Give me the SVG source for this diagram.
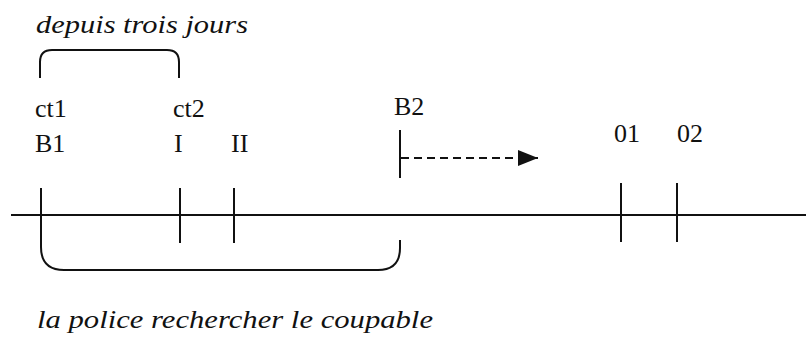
<svg xmlns="http://www.w3.org/2000/svg" width="806" height="347" viewBox="0 0 806 347">
<defs>
<style>
.t{font-family:"Liberation Serif","Times New Roman",serif;font-size:26px;fill:#111}
.i{font-style:italic}
.l{stroke:#111;stroke-width:2;fill:none}
</style>
<marker id="ah" markerWidth="20" markerHeight="16" refX="20" refY="8" orient="auto" markerUnits="userSpaceOnUse">
<path d="M0,0 L20,8 L0,16 Z" fill="#111"/>
</marker>
</defs>
<rect width="806" height="347" fill="#fff"/>
<g id="labels">
<text class="t i" x="36" y="33" textLength="212" lengthAdjust="spacingAndGlyphs">depuis trois jours</text>
<text class="t i" x="37" y="328" textLength="396" lengthAdjust="spacingAndGlyphs">la police rechercher le coupable</text>
</g>
<g id="node-B1"><text class="t" x="35" y="117">ct1</text><text class="t" x="35" y="152">B1</text></g>
<g id="node-I"><text class="t" x="173" y="117">ct2</text><text class="t" x="174" y="152">I</text></g>
<g id="node-II"><text class="t" x="231" y="152">II</text></g>
<g id="node-B2"><text class="t" x="394" y="115">B2</text></g>
<g id="node-01"><text class="t" x="614" y="142">01</text></g>
<g id="node-02"><text class="t" x="677" y="142">02</text></g>
<g id="connectors">
<line class="l" x1="11" y1="215" x2="806" y2="215"/>
<path class="l" d="M40,78 V62 Q40,50 52,50 H167 Q179,50 179,62 V78"/>
<path class="l" d="M41,188 V247 Q41,270 64,270 H378 Q400,270 400,248 V240"/>
<line class="l" x1="180" y1="188" x2="180" y2="243"/>
<line class="l" x1="234" y1="188" x2="234" y2="243"/>
<line class="l" x1="400" y1="130" x2="400" y2="178"/>
<line class="l" x1="401" y1="158" x2="538" y2="158" stroke-dasharray="8,5" marker-end="url(#ah)"/>
<line class="l" x1="621" y1="183" x2="621" y2="242"/>
<line class="l" x1="677" y1="183" x2="677" y2="242"/>
</g>
</svg>
